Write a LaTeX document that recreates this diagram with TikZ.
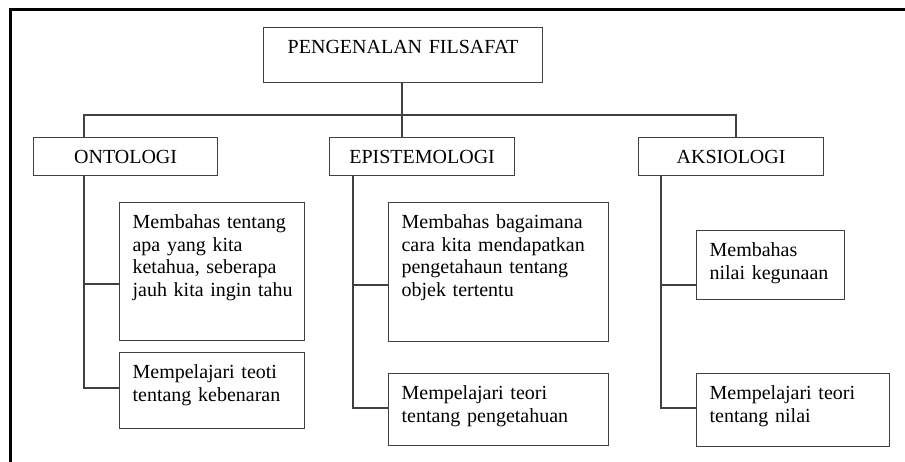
\documentclass[tikz,border=0pt]{standalone}
\usepackage{fontspec}
\setmainfont{Liberation Serif}
\usetikzlibrary{positioning}
\tikzset{
  box/.style={draw=black!75, line width=1.2pt, anchor=north west,
    inner xsep=13pt, inner ysep=0pt, text height=26pt,
    font=\fontsize{20}{22.5}\selectfont},
  head/.style={box, align=center},
  leaf/.style={box, align=left},
  link/.style={draw=black!75, line width=1.2pt},
}
\begin{document}
\begin{tikzpicture}[x=1pt, y=-1pt]
  \useasboundingbox (0,0) rectangle (905,462);
  % frame, only its top and left edges show
  \draw[line width=3pt] (905,10) -- (10,10) -- (10,462);

  \node[head, text width=253pt, text depth=29pt] (title) at (263,27) {PENGENALAN FILSAFAT};

  \node[head, text width=158pt, text depth=12pt] (onto) at (33,137) {ONTOLOGI};
  \node[head, text width=159pt, text depth=12pt] (epi)  at (329,137) {EPISTEMOLOGI};
  \node[head, text width=159pt, text depth=12pt] (aksi) at (638,137) {AKSIOLOGI};

  \node[leaf, text width=159pt, text depth=112pt] (onto1) at (119,202)
    {Membahas tentang\\apa yang kita\\ketahua, seberapa\\\mbox{jauh kita ingin tahu}};
  \node[leaf, text width=159pt, text depth=50pt] (onto2) at (119,352)
    {Mempelajari teoti\\tentang kebenaran};

  \node[leaf, text width=194pt, text depth=113pt] (epi1) at (388,202)
    {Membahas bagaimana\\cara kita mendapatkan\\pengetahaun tentang\\objek tertentu};
  \node[leaf, text width=194pt, text depth=46pt] (epi2) at (388,373)
    {Mempelajari teori\\tentang pengetahuan};

  \node[leaf, text width=122pt, text depth=43pt] (aksi1) at (696,230)
    {Membahas\\nilai kegunaan};
  \node[leaf, text width=167pt, text depth=47pt] (aksi2) at (696,373)
    {Mempelajari teori\\tentang nilai};

  \coordinate (hub) at (402,115);
  \draw[link] (title.south -| hub) -- (hub) -- (hub |- epi.north);
  \draw[link] (onto.north -| 84,0) |- (hub) -| (aksi.north -| 736,0);

  \draw[link] (onto.south -| 84,0) |- (onto1.west |- 0,284);
  \draw[link] (onto.south -| 84,0) |- (onto2.west |- 0,388);

  \draw[link] (epi.south -| 353,0) |- (epi1.west |- 0,285);
  \draw[link] (epi.south -| 353,0) |- (epi2.west |- 0,408);

  \draw[link] (aksi.south -| 661,0) |- (aksi1.west |- 0,285);
  \draw[link] (aksi.south -| 661,0) |- (aksi2.west |- 0,408);
\end{tikzpicture}
\end{document}
